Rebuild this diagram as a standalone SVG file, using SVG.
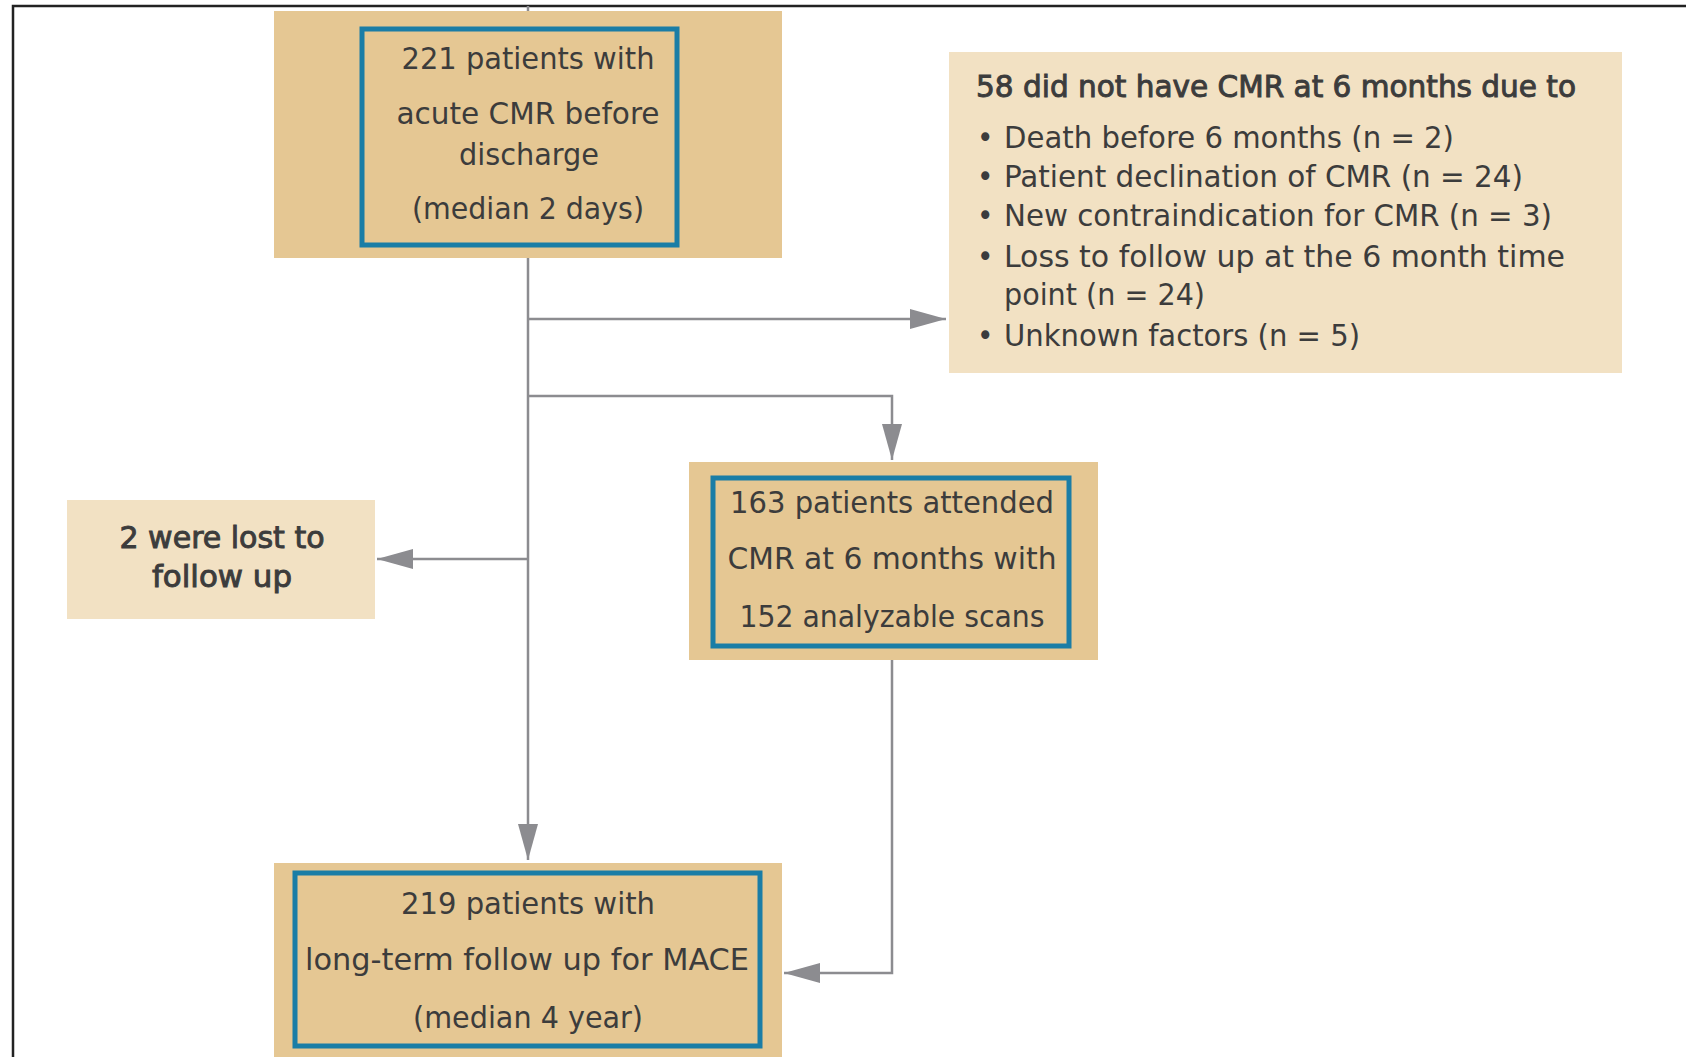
<svg xmlns="http://www.w3.org/2000/svg" width="1686" height="1057" viewBox="0 0 1686 1057">
<defs>
<style>
.tan{fill:#E5C793}
.light{fill:#F2E1C3}
.blue{fill:none;stroke:#1A7DA6;stroke-width:5}
.t{font-family:"Liberation Sans Narrow","DejaVu Sans Condensed","Roboto",sans-serif;font-size:31px;fill:#3c3c3c;text-anchor:middle}
.b{font-family:"Liberation Sans Narrow","DejaVu Sans Condensed","Roboto",sans-serif;font-size:31px;fill:#3c3c3c}
.bold{stroke:#3c3c3c;stroke-width:0.9}
.c{fill:none;stroke:#8c8c90;stroke-width:2.5}
</style>
<marker id="ah" markerUnits="userSpaceOnUse" markerWidth="36" markerHeight="20" refX="36" refY="10" orient="auto">
<path d="M0,0 L36,10 L0,20 Z" fill="#8c8c90"/>
</marker>
</defs>
<rect x="0" y="0" width="1686" height="1057" fill="#ffffff"/>
<g id="frame">
<path d="M13,1057 L13,6 L1686,6" fill="none" stroke="#222" stroke-width="2.5"/>
</g>
<g id="connectors">
<path class="c" d="M528,6 L528,11"/>
<path class="c" d="M528,258 L528,860" marker-end="url(#ah)"/>
<path class="c" d="M528,319 L946,319" marker-end="url(#ah)"/>
<path class="c" d="M528,396 L892,396 L892,460" marker-end="url(#ah)"/>
<path class="c" d="M528,559 L377,559" marker-end="url(#ah)"/>
<path class="c" d="M892,660 L892,973 L784,973" marker-end="url(#ah)"/>
</g>
<g id="node-acute">
<rect class="tan" x="274" y="11" width="508" height="247"/>
<rect class="blue" x="362" y="29" width="315" height="216"/>
<text class="t" x="528" y="69" textLength="253" lengthAdjust="spacingAndGlyphs">221 patients with</text>
<text class="t" x="528" y="124" textLength="263" lengthAdjust="spacingAndGlyphs">acute CMR before</text>
<text class="t" x="529" y="165" textLength="140" lengthAdjust="spacingAndGlyphs">discharge</text>
<text class="t" x="528" y="219" textLength="232" lengthAdjust="spacingAndGlyphs">(median 2 days)</text>
</g>
<g id="node-nocmr">
<rect class="light" x="949" y="52" width="673" height="321"/>
<text class="b bold" x="976" y="97" textLength="600" lengthAdjust="spacingAndGlyphs">58 did not have CMR at 6 months due to</text>
<g class="b">
<text x="977" y="148">•</text>
<text x="1004" y="148" textLength="450" lengthAdjust="spacingAndGlyphs">Death before 6 months (n = 2)</text>
<text x="977" y="187">•</text>
<text x="1004" y="187" textLength="519" lengthAdjust="spacingAndGlyphs">Patient declination of CMR (n = 24)</text>
<text x="977" y="226">•</text>
<text x="1004" y="226" textLength="548" lengthAdjust="spacingAndGlyphs">New contraindication for CMR (n = 3)</text>
<text x="977" y="267">•</text>
<text x="1004" y="267" textLength="561" lengthAdjust="spacingAndGlyphs">Loss to follow up at the 6 month time</text>
<text x="1004" y="305" textLength="201" lengthAdjust="spacingAndGlyphs">point (n = 24)</text>
<text x="977" y="346">•</text>
<text x="1004" y="346" textLength="356" lengthAdjust="spacingAndGlyphs">Unknown factors (n = 5)</text>
</g>
</g>
<g id="node-lost">
<rect class="light" x="67" y="500" width="308" height="119"/>
<text class="t bold" x="222" y="548" textLength="205" lengthAdjust="spacingAndGlyphs">2 were lost to</text>
<text class="t bold" x="222" y="587" textLength="140" lengthAdjust="spacingAndGlyphs">follow up</text>
</g>
<g id="node-attended">
<rect class="tan" x="689" y="462" width="409" height="198"/>
<rect class="blue" x="713" y="478" width="356" height="168"/>
<text class="t" x="892" y="513" textLength="324" lengthAdjust="spacingAndGlyphs">163 patients attended</text>
<text class="t" x="892" y="569" textLength="329" lengthAdjust="spacingAndGlyphs">CMR at 6 months with</text>
<text class="t" x="892" y="627" textLength="305" lengthAdjust="spacingAndGlyphs">152 analyzable scans</text>
</g>
<g id="node-longterm">
<rect class="tan" x="274" y="863" width="508" height="194"/>
<rect class="blue" x="295" y="873" width="465" height="173"/>
<text class="t" x="528" y="914" textLength="254" lengthAdjust="spacingAndGlyphs">219 patients with</text>
<text class="t" x="527" y="970" textLength="444" lengthAdjust="spacingAndGlyphs">long-term follow up for MACE</text>
<text class="t" x="528" y="1028" textLength="230" lengthAdjust="spacingAndGlyphs">(median 4 year)</text>
</g>
</svg>
